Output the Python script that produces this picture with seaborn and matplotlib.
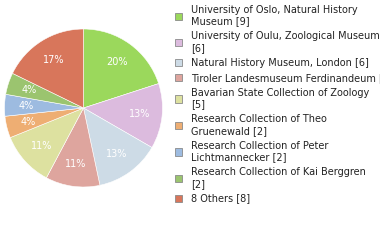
import matplotlib
matplotlib.use("Agg")
import matplotlib.pyplot as plt
import seaborn as sns
from matplotlib.patches import Patch

# collections and specimen counts
labels = [
    "University of Oslo, Natural History\nMuseum [9]",
    "University of Oulu, Zoological Museum\n[6]",
    "Natural History Museum, London [6]",
    "Tiroler Landesmuseum Ferdinandeum [5]",
    "Bavarian State Collection of Zoology\n[5]",
    "Research Collection of Theo\nGruenewald [2]",
    "Research Collection of Peter\nLichtmannecker [2]",
    "Research Collection of Kai Berggren\n[2]",
    "8 Others [8]",
]
counts = [9, 6, 6, 5, 5, 2, 2, 2, 8]
colors = ["#9bd85c", "#dcbbde", "#cddbe6", "#dea59e", "#dde1a0",
          "#eeae73", "#9dbbe0", "#9bc46f", "#d8765b"]

sns.set_style("white")
plt.rcParams['font.family'] = ['DejaVu Sans']

fig = plt.figure(figsize=(3.8, 2.4), dpi=100)
ax = fig.add_axes([4.5 / 380, (240 - 108 - 79) / 240, 158 / 380, 158 / 240])

wedges, texts, autotexts = ax.pie(
    counts, colors=colors, startangle=90, counterclock=False,
    autopct=lambda p: f"{int(p)}%", pctdistance=0.72,
    wedgeprops=dict(edgecolor="white", linewidth=0.4),
    textprops=dict(color="white", fontsize=7),
)
ax.set_xlim(-1, 1)
ax.set_ylim(-1, 1)
ax.set_aspect("equal")

handles = [Patch(facecolor=c, edgecolor="#8a8a8a", linewidth=0.6) for c in colors]
fig.legend(handles, labels, loc="upper left", bbox_to_anchor=(174 / 380, 1 - 4 / 240),
           frameon=False, fontsize=7, handlelength=0.75, handleheight=0.75,
           handletextpad=0.9, labelspacing=0.5, borderaxespad=0, borderpad=0.1,
           labelcolor="#222222")

fig.savefig("out.png", dpi=100)
